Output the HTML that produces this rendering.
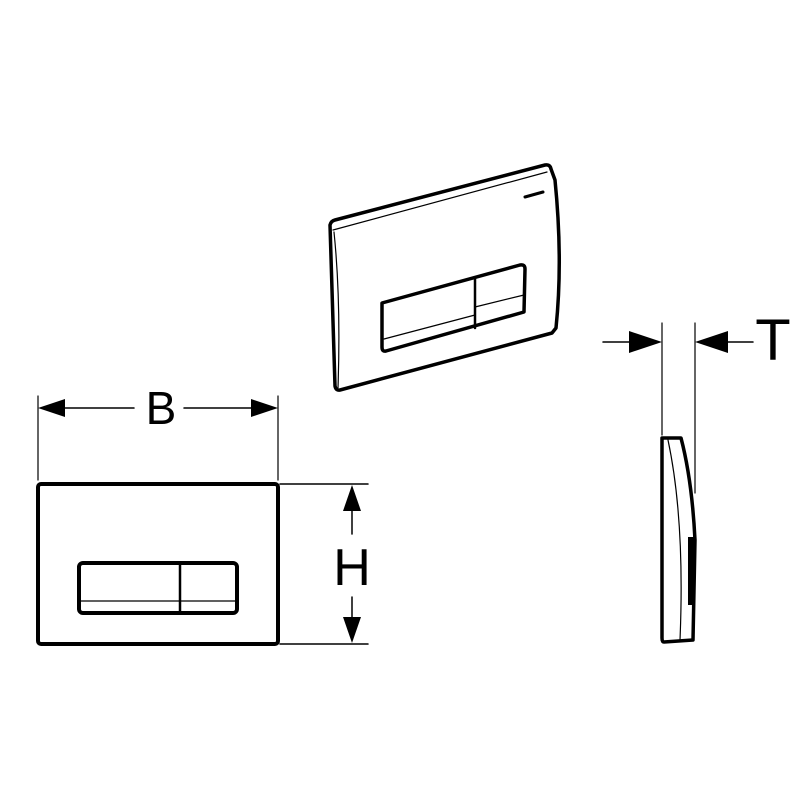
<!DOCTYPE html>
<html><head><style>body{margin:0;background:#fff}svg{display:block}</style></head><body>
<svg width="800" height="800" viewBox="0 0 800 800" xmlns="http://www.w3.org/2000/svg">
<g fill="none" stroke="#000" stroke-linejoin="round" stroke-linecap="round">
<path d="M330,225 Q331,221 335,220 L545,165 Q550,164 551,169 L555,180 Q563,260 556,328 L552,333 L340,390 Q336,391 335,386 Q332,300 330,225 Z" stroke-width="3.5"/>
<path d="M333,230 L547,172 M334,232 Q341,300 338,388" stroke-width="1.2"/>
<path d="M382,303 L520,265 Q525,264 525,269 L524,312 L386,351 Q382,352 382,347 Z" stroke-width="3.5"/>
<path d="M475,279 L475,328" stroke-width="2.5"/>
<path d="M384,339 L475,315 M475,307 L524,295" stroke-width="1.2"/>
<path d="M525,197 L543,192" stroke-width="3"/>
<rect x="38" y="484" width="240" height="160" rx="3" stroke-width="4"/>
<rect x="79" y="563" width="158" height="50" rx="4" stroke-width="4"/>
<path d="M180,563 V613" stroke-width="2.5"/>
<path d="M80,601 H236" stroke-width="1.2"/>
<path d="M38,396 V480 M278,396 V480" stroke-width="1.2"/>
<path d="M62,408 H134 M184,408 H252 M280,484 H368 M280,644 H368 M352,510 V534 M352,597 V617" stroke-width="1.5"/>
<path d="M662,323 V435 M695,323 V493" stroke-width="1.2"/>
<path d="M603,342 H630 M727,342 H753" stroke-width="1.5"/>
<path d="M662,438 L681,438 Q692,480 695,540 L693,640 L664,642 Q662,642 662,638 Z" stroke-width="3.5"/>
<path d="M668,440 Q685,520 680,640" stroke-width="1.2"/>
</g>
<g fill="#000">
<polygon points="38,408 65,399 65,417"/>
<polygon points="278,408 251,399 251,417"/>
<polygon points="352,485 343,511 361,511"/>
<polygon points="352,643 343,617 361,617"/>
<polygon points="662,342 629,331 629,353"/>
<polygon points="695,342 728,331 728,353"/>
<rect x="688" y="537" width="6" height="68"/>
</g>
<g font-family="Liberation Sans, sans-serif" fill="#000" text-anchor="middle">
<text x="161" y="424" font-size="46">B</text>
<text x="352" y="585" font-size="52">H</text>
<text x="773" y="360" font-size="58">T</text>
</g>
</svg>
</body></html>
